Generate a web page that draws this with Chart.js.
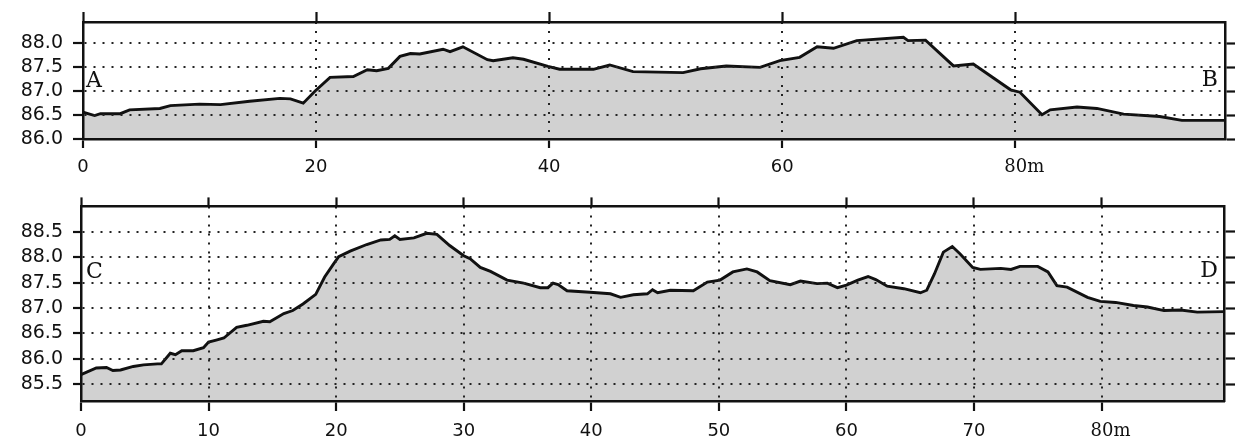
<!DOCTYPE html>
<html><head><meta charset="utf-8">
<script src="https://cdn.jsdelivr.net/npm/chart.js@4/dist/chart.umd.min.js"></script>
<style>
html,body{margin:0;padding:0;background:#fff;}
#wrap{position:relative;width:1248px;height:441px;overflow:hidden;background:#fff;}
.panel{position:absolute;left:0;width:1248px;}
#p1{top:0;height:185px;}
#p2{top:185px;height:256px;}
canvas{display:block;}
</style></head><body>
<div id="wrap">
<div class="panel" id="p1"><canvas id="c1" width="1248" height="185"></canvas></div>
<div class="panel" id="p2"><canvas id="c2" width="1248" height="256"></canvas></div>
</div>
<script>
// ---- Profile A–B ----
const topDist = [0, 1.0, 1.5, 3.2, 4.0, 6.6, 7.5, 10.0, 11.8, 14.3, 16.9, 17.8, 18.9, 19.9, 21.2, 23.2, 24.4, 25.2, 26.2, 27.2, 28.1, 28.9, 30.9, 31.5, 32.6, 34.7, 35.2, 36.9, 37.8, 39.9, 40.9, 43.8, 45.2, 47.2, 51.5, 53.0, 55.2, 58.1, 59.8, 61.5, 63.0, 64.4, 66.4, 70.4, 70.8, 72.3, 74.7, 76.4, 79.6, 80.4, 82.3, 83.0, 85.3, 87.0, 89.3, 92.4, 94.3, 98.0];
const topElev = [86.56, 86.49, 86.53, 86.53, 86.61, 86.64, 86.70, 86.73, 86.72, 86.79, 86.85, 86.84, 86.75, 87.00, 87.29, 87.31, 87.45, 87.43, 87.48, 87.73, 87.79, 87.78, 87.88, 87.83, 87.93, 87.66, 87.64, 87.70, 87.67, 87.52, 87.46, 87.46, 87.55, 87.41, 87.39, 87.47, 87.53, 87.50, 87.64, 87.71, 87.93, 87.90, 88.06, 88.13, 88.06, 88.07, 87.53, 87.57, 87.03, 86.98, 86.51, 86.61, 86.67, 86.64, 86.52, 86.47, 86.39, 86.39];
const topXTicks = [0, 20, 40, 60, 80];
const topXLabels = ['0', '20', '40', '60', '80m'];
const topYTicks = [86.0, 86.5, 87.0, 87.5, 88.0];
const topEnds = ['A', 'B'];

// ---- Profile C–D ----
const bottomDist = [0, 1.2, 2.0, 2.5, 3.1, 4.1, 4.9, 6.0, 6.3, 7.0, 7.4, 7.9, 8.8, 9.6, 10.0, 10.6, 11.2, 12.2, 13.0, 14.3, 14.8, 15.9, 16.6, 17.4, 18.4, 19.1, 19.8, 20.2, 21.1, 22.4, 23.5, 24.2, 24.6, 25.0, 26.1, 27.1, 27.9, 28.9, 30.0, 30.5, 31.3, 32.1, 33.4, 34.7, 36.0, 36.6, 37.0, 37.4, 38.1, 39.9, 41.5, 42.3, 43.3, 44.4, 44.8, 45.2, 46.2, 48.0, 49.1, 50.1, 51.1, 52.2, 53.0, 54.0, 55.6, 56.4, 57.7, 58.5, 59.3, 60.0, 60.9, 61.7, 62.3, 63.2, 64.5, 65.8, 66.3, 66.9, 67.6, 68.3, 68.9, 69.9, 70.5, 72.1, 72.9, 73.6, 75.0, 75.8, 76.5, 77.3, 78.9, 79.9, 81.1, 82.5, 83.6, 84.9, 86.2, 87.5, 89.6];
const bottomElev = [85.69, 85.82, 85.83, 85.77, 85.78, 85.85, 85.88, 85.90, 85.90, 86.11, 86.08, 86.16, 86.16, 86.22, 86.33, 86.37, 86.41, 86.62, 86.66, 86.74, 86.73, 86.89, 86.95, 87.08, 87.27, 87.61, 87.87, 88.01, 88.12, 88.25, 88.34, 88.35, 88.42, 88.35, 88.38, 88.47, 88.45, 88.23, 88.03, 87.97, 87.80, 87.72, 87.55, 87.49, 87.40, 87.40, 87.49, 87.46, 87.34, 87.31, 87.28, 87.21, 87.26, 87.28, 87.36, 87.30, 87.35, 87.34, 87.51, 87.55, 87.71, 87.77, 87.71, 87.54, 87.46, 87.53, 87.48, 87.49, 87.40, 87.45, 87.55, 87.62, 87.56, 87.43, 87.38, 87.30, 87.35, 87.67, 88.10, 88.21, 88.07, 87.80, 87.76, 87.78, 87.76, 87.82, 87.82, 87.71, 87.44, 87.41, 87.21, 87.13, 87.11, 87.05, 87.02, 86.95, 86.96, 86.92, 86.93];
const bottomXTicks = [0, 10, 20, 30, 40, 50, 60, 70, 80];
const bottomXLabels = ['0', '10', '20', '30', '40', '50', '60', '70', '80m'];
const bottomYTicks = [85.5, 86.0, 86.5, 87.0, 87.5, 88.0, 88.5];
const bottomEnds = ['C', 'D'];

const SANS = 'DejaVu Sans';
const SERIF = 'DejaVu Serif';
const INK = '#111';

const endLabelPlugin = {
  id: 'endLabels',
  afterDraw(chart, args, opts) {
    const {ctx, chartArea, scales} = chart;
    ctx.save();
    ctx.fillStyle = INK;
    ctx.font = '22px "' + SERIF + '"';
    ctx.textBaseline = 'middle';
    ctx.textAlign = 'left';
    ctx.fillText(opts.labels[0], chartArea.left + opts.leftInset, scales.y.getPixelForValue(opts.leftAt));
    ctx.textAlign = 'right';
    ctx.fillText(opts.labels[1], chartArea.right - opts.rightInset, scales.y.getPixelForValue(opts.rightAt));
    ctx.restore();
  }
};

function makeProfile(id, g, dist, elev, xTicks, xLabels, yTicks, ends) {
  const pts = dist.map((d, i) => ({x: d, y: elev[i]}));
  const setTicks = arr => scale => { scale.ticks = arr.map(v => ({value: v})); };
  const fixW = w => scale => { scale.width = w; };
  const fixH = h => scale => { scale.height = h; };
  const solidBorder = () => ({display: true, color: INK, width: 2.5, z: 2});
  const dottedBorder = () => ({display: true, color: INK, width: 2.5, z: 2, dash: [2, 7], dashOffset: 0});
  return new Chart(document.getElementById(id), {
    type: 'line',
    data: {datasets: [{
      data: pts,
      borderColor: INK,
      borderWidth: 2.9,
      backgroundColor: '#d1d1d1',
      fill: 'start',
      pointRadius: 0,
      tension: 0
    }]},
    options: {
      responsive: false,
      animation: false,
      events: [],
      layout: {padding: 0},
      plugins: {
        legend: {display: false},
        tooltip: {enabled: false},
        endLabels: {labels: ends, leftInset: g.lIn, rightInset: g.rIn, leftAt: g.lAt, rightAt: g.rAt}
      },
      scales: {
        x: {
          type: 'linear', position: 'bottom', min: 0, max: g.xMax,
          afterBuildTicks: setTicks(xTicks),
          afterFit: fixH(g.bottomH),
          border: dottedBorder(),
          grid: {display: true, drawOnChartArea: true, drawTicks: true, tickLength: g.tlB,
                 color: '#222', lineWidth: 2, z: 1,
                 tickColor: INK, tickWidth: 2.2, tickBorderDash: []},
          ticks: {
            color: INK, padding: g.xPad, maxRotation: 0, autoSkip: false,
            font: ctx => (ctx.index === xTicks.length - 1) ? {family: SERIF, size: 18} : {family: SANS, size: 18},
            callback: (v, i) => (i === xTicks.length - 1) ? '\u2002\u2002' + xLabels[i] : xLabels[i]
          }
        },
        xTop: {
          type: 'linear', position: 'top', min: 0, max: g.xMax,
          afterBuildTicks: setTicks(xTicks),
          afterFit: fixH(g.topH),
          border: solidBorder(),
          grid: {display: true, drawOnChartArea: false, drawTicks: true, tickLength: g.tlT,
                 tickColor: INK, tickWidth: 2.2, tickBorderDash: [], z: 1},
          ticks: {display: false}
        },
        y: {
          type: 'linear', position: 'left', min: g.yMin, max: g.yMax,
          afterBuildTicks: setTicks(yTicks),
          afterFit: fixW(g.leftW),
          border: dottedBorder(),
          grid: {display: true, drawOnChartArea: true, drawTicks: true, tickLength: g.tlL,
                 color: '#222', lineWidth: 2, z: 1,
                 tickColor: INK, tickWidth: 2.2, tickBorderDash: []},
          ticks: {color: INK, padding: g.yPad, font: {family: SANS, size: 19},
                  callback: v => Number(v).toFixed(1)}
        },
        yRight: {
          type: 'linear', position: 'right', min: g.yMin, max: g.yMax,
          afterBuildTicks: setTicks(yTicks),
          afterFit: fixW(g.rightW),
          border: solidBorder(),
          grid: {display: true, drawOnChartArea: false, drawTicks: true, tickLength: g.tlR,
                 tickColor: INK, tickWidth: 2.2, tickBorderDash: [], z: 1},
          ticks: {display: false}
        }
      }
    },
    plugins: [endLabelPlugin]
  });
}

makeProfile('c1', {
  xMax: 98, yMin: 86.0, yMax: 88.45,
  leftW: 83, rightW: 23, topH: 22, bottomH: 46,
  tlB: 9, tlT: 10, tlL: 10, tlR: 10, xPad: 9, yPad: 10,
  lIn: 3, rIn: 7, lAt: 87.2, rAt: 87.24
}, topDist, topElev, topXTicks, topXLabels, topYTicks, topEnds);

makeProfile('c2', {
  xMax: 89.6, yMin: 85.17, yMax: 89.0,
  leftW: 81, rightW: 24, topH: 21, bottomH: 40,
  tlB: 10, tlT: 9, tlL: 8, tlR: 11, xPad: 10, yPad: 10,
  lIn: 5, rIn: 6, lAt: 87.71, rAt: 87.72
}, bottomDist, bottomElev, bottomXTicks, bottomXLabels, bottomYTicks, bottomEnds);
</script>
</body></html>
